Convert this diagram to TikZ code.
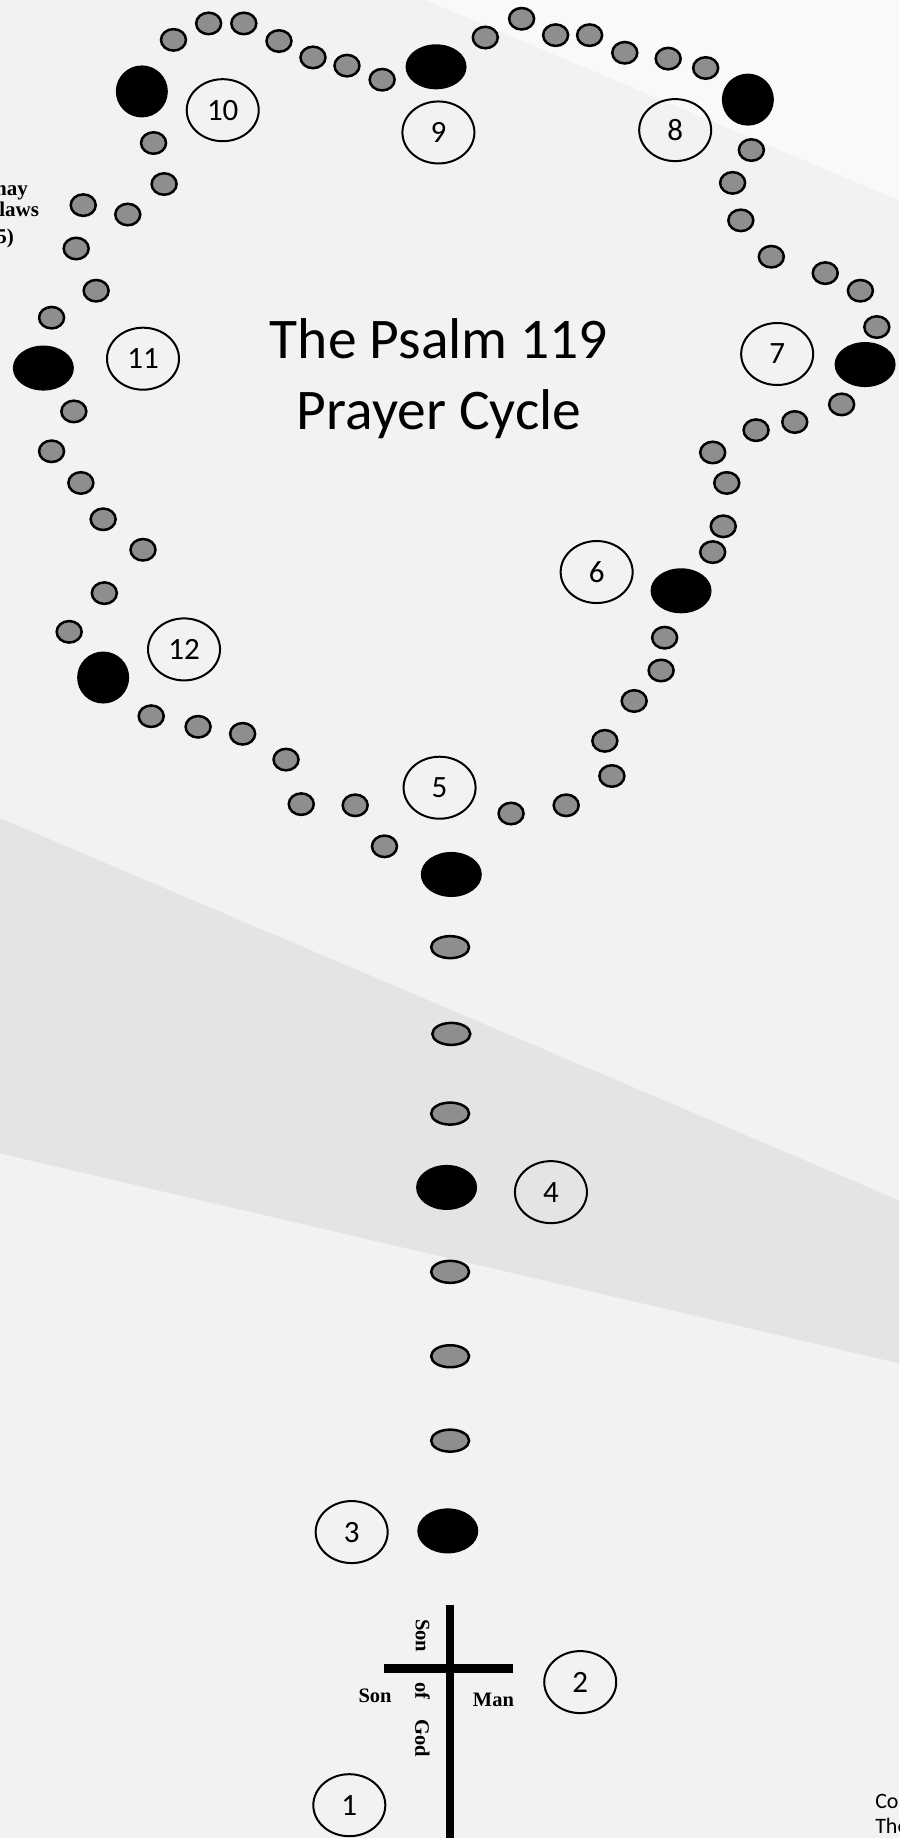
\documentclass[tikz,border=0pt]{standalone}
\usepackage{fontspec}
\setmainfont{Carlito}
\newfontfamily\crossfont{Liberation Serif}
\usetikzlibrary{shapes.geometric}

\definecolor{paper}{HTML}{F2F2F2}
\definecolor{band}{HTML}{E4E4E4}
\definecolor{glare}{HTML}{F9F9F9}
\definecolor{beadgray}{HTML}{8E8E8E}

\tikzset{
  bead/.style={ellipse,draw=black,line width=2.5pt,fill=beadgray,minimum width=25pt,minimum height=21.5pt,inner sep=0pt},
  stembead/.style={bead,minimum width=38pt,minimum height=22pt},
  bigbead/.style={ellipse,fill=black,minimum width=61pt,minimum height=45pt,inner sep=0pt},
  roundbead/.style={circle,fill=black,minimum size=52pt,inner sep=0pt},
  decade/.style={ellipse,draw=black,line width=2pt,minimum width=72pt,minimum height=62pt,inner sep=0pt,font=\fontsize{31}{36}\selectfont},
  headline/.style={anchor=base,inner sep=0pt,font=\fontsize{57.5}{70}\selectfont},
  crosstext/.style={inner sep=0pt,font=\crossfont\bfseries\fontsize{20.5}{24}\selectfont},
  sidetext/.style={anchor=base east,inner sep=0pt,font=\crossfont\bfseries\fontsize{21}{24}\selectfont},
  foottext/.style={anchor=base west,inner sep=0pt,font=\fontsize{22}{26}\selectfont}
}

\begin{document}
\begin{tikzpicture}[x=1.1721pt,y=-1.1721pt]
\useasboundingbox (0,0) rectangle (767,1568);
\clip (0,0) rectangle (767,1568);

% background
\fill[paper] (0,0) rectangle (767,1568);
\fill[glare] (363,0) -- (767,0) -- (767,171) -- cycle;
\fill[band] (0,698) -- (767,1024) -- (767,1163) -- (0,984) -- cycle;

% title
\node[headline] (title1) at (374.5,306) {The Psalm 119};
\node[headline] (title2) at (374.5,366) {Prayer Cycle};

% loop, from the centre bead round to the left
\node[bead] (b1) at (328,722) {};
\node[bead] (b2) at (303,687) {};
\node[bead] (b3) at (257,686) {};
\node[bead] (b4) at (244,648) {};
\node[bead] (b5) at (207,626) {};
\node[bead] (b6) at (169,620) {};
\node[bead] (b7) at (129,611) {};
\node[roundbead] (m12) at (88,578) {};
\node[bead] (b8) at (59,539) {};
\node[bead] (b9) at (89,506) {};
\node[bead] (b10) at (122,469) {};
\node[bead] (b11) at (88,443) {};
\node[bead] (b12) at (69,412) {};
\node[bead] (b13) at (44,385) {};
\node[bead] (b14) at (63,351) {};
\node[bigbead] (m11) at (37,314) {};
\node[bead] (b15) at (44,271) {};
\node[bead] (b16) at (82,248) {};
\node[bead] (b17) at (65,212) {};
\node[bead] (b18) at (71,175) {};
\node[bead] (b19) at (109,183) {};
\node[bead] (b20) at (140,157) {};
\node[bead] (b21) at (131,122) {};
\node[roundbead] (m10) at (121,78) {};
\node[bead] (b22) at (148,34) {};
\node[bead] (b23) at (178,20) {};
\node[bead] (b24) at (208,20) {};
\node[bead] (b25) at (238,35) {};
\node[bead] (b26) at (267,49) {};
\node[bead] (b27) at (296,56) {};
\node[bead] (b28) at (326,68) {};
\node[bigbead] (m9) at (372,57) {};
\node[bead] (b29) at (414,32) {};
\node[bead] (b30) at (445,16) {};
\node[bead] (b31) at (474,30) {};
\node[bead] (b32) at (503,30) {};
\node[bead] (b33) at (533,45) {};
\node[bead] (b34) at (570,50) {};
\node[bead] (b35) at (602,58) {};
\node[roundbead] (m8) at (638,85) {};
\node[bead] (b36) at (641,128) {};
\node[bead] (b37) at (625,156) {};
\node[bead] (b38) at (632,188) {};
\node[bead] (b39) at (658,219) {};
\node[bead] (b40) at (704,233) {};
\node[bead] (b41) at (734,248) {};
\node[bead] (b42) at (748,279) {};
\node[bigbead] (m7) at (738,311) {};
\node[bead] (b43) at (718,345) {};
\node[bead] (b44) at (678,360) {};
\node[bead] (b45) at (645,367) {};
\node[bead] (b46) at (608,386) {};
\node[bead] (b47) at (620,412) {};
\node[bead] (b48) at (617,449) {};
\node[bead] (b49) at (608,471) {};
\node[bigbead] (m6) at (581,504) {};
\node[bead] (b50) at (567,544) {};
\node[bead] (b51) at (564,572) {};
\node[bead] (b52) at (541,598) {};
\node[bead] (b53) at (516,632) {};
\node[bead] (b54) at (522,662) {};
\node[bead] (b55) at (483,687) {};
\node[bead] (b56) at (436,694) {};
\node[bigbead] (m5) at (385,746) {};

% stem
\node[stembead] (s1) at (384,808) {};
\node[stembead] (s2) at (385,882) {};
\node[stembead] (s3) at (384,950) {};
\node[bigbead] (m4) at (381,1013) {};
\node[stembead] (s4) at (384,1085) {};
\node[stembead] (s5) at (384,1157) {};
\node[stembead] (s6) at (384,1229) {};
\node[bigbead] (m3) at (382,1306) {};

% numbers
\node[decade] (n1) at (298,1540) {1};
\node[decade] (n2) at (495,1435) {2};
\node[decade] (n3) at (300,1307) {3};
\node[decade] (n4) at (470,1017) {4};
\node[decade] (n5) at (375,672) {5};
\node[decade] (n6) at (509,488) {6};
\node[decade] (n7) at (663,302) {7};
\node[decade] (n8) at (576,111) {8};
\node[decade] (n9) at (374,113) {9};
\node[decade] (n10) at (190,94) {10};
\node[decade] (n11) at (122,306) {11};
\node[decade] (n12) at (157,554) {12};

% cross
\fill (380.5,1369.4) rectangle (387.5,1568);
\fill (328,1419.7) rectangle (437.5,1426.9);
\node[crosstext,rotate=-90] (sonv) at (360.5,1395.5) {Son};
\node[crosstext,rotate=-90] (ofgod) at (360.5,1467) {of\quad God};
\node[crosstext,anchor=base] (sonh) at (320,1452.7) {Son};
\node[crosstext,anchor=base] (man) at (421,1455.6) {Man};

% text cut off at the edges
\node[sidetext] (side1) at (24,167) {may};
\node[sidetext] (side2) at (33.5,185) {laws};
\node[sidetext] (side3) at (12,207.5) {5)};
\node[foottext] (foot1) at (746.5,1542.6) {Co};
\node[foottext] (foot2) at (746.5,1564) {The};
\end{tikzpicture}
\end{document}
